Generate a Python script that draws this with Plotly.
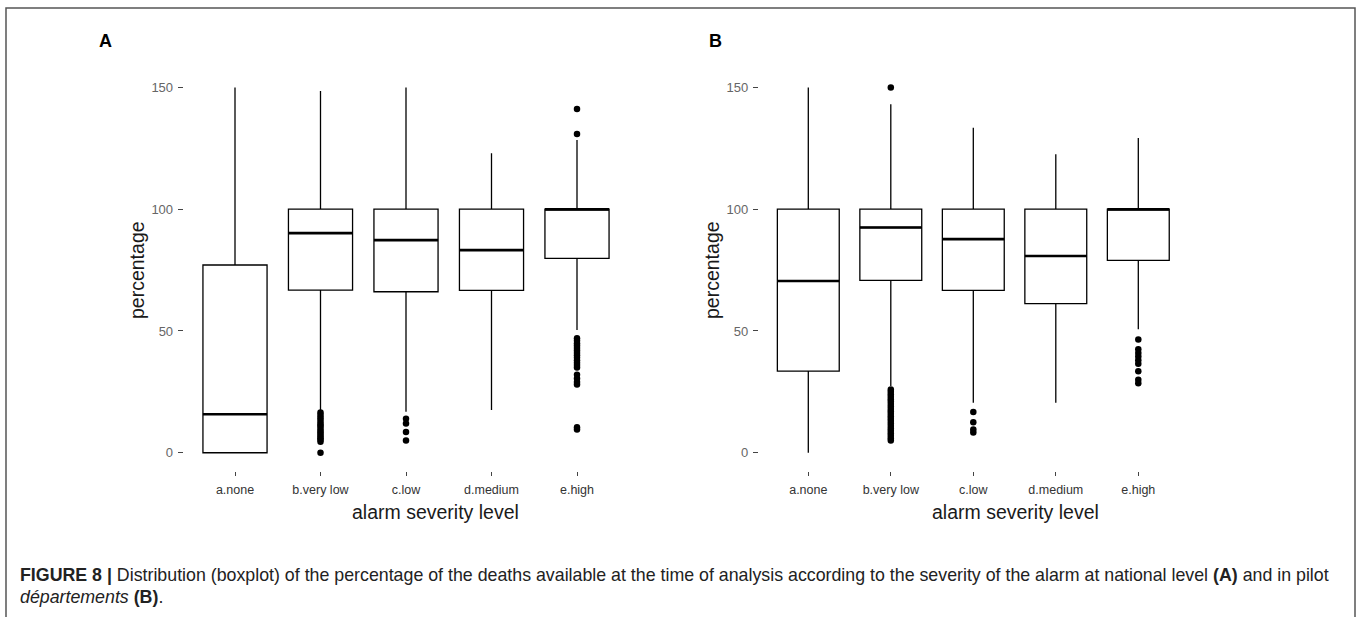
import plotly.graph_objects as go

W, H = 1358, 617

categories = ["a.none", "b.very low", "c.low", "d.medium", "e.high"]

# Panel A: national level
a_q1 = [0, 66.8, 66.1, 66.7, 79.8]
a_median = [15.8, 90.2, 87.3, 83.2, 100]
a_q3 = [77.1, 100, 100, 100, 100]
a_low = [0, 17.5, 16.8, 17.5, 50.4]
a_high = [150, 148.5, 150, 123, 128.4]
a_out = {
    1: [16.5, 15.5, 14.5, 13.5, 12.5, 11.5, 11, 10, 9, 8.3, 7.5, 6.7, 6, 5.3, 4.5, 0],
    2: [14, 12, 8.5, 5],
    4: [141.2, 130.9, 47, 46, 45, 44, 43, 42, 41, 40, 39, 38, 37, 36, 35,
        32, 30.5, 29, 28, 10.5, 9.5],
}

# Panel B: pilot départements
b_q1 = [33.5, 70.8, 66.7, 61.2, 79]
b_median = [70.5, 92.5, 87.7, 80.8, 100]
b_q3 = [100, 100, 100, 100, 100]
b_low = [0, 27.4, 20.5, 20.5, 50.7]
b_high = [150, 143.1, 133.5, 122.6, 129.2]
b_out = {
    1: [150, 26, 25, 24, 23, 22, 21, 20, 19, 18, 17, 16, 15, 14, 13, 12, 11,
        10, 9, 8, 7, 6, 5],
    2: [16.7, 12.5, 9.5, 8.3],
    4: [46.5, 42.5, 41, 39.5, 38, 36.5, 33.5, 30, 28.5],
}

y_ticks = [0, 50, 100, 150]
panel_labels = ["A", "B"]
x_title = "alarm severity level"
y_title = "percentage"

BOXW = 0.75
pos = list(range(len(categories)))

fig = go.Figure()


def add_panel(q1, med, q3, lo, hi, outs, xa, ya):
    fig.add_trace(go.Box(
        x=pos, q1=q1, median=med, q3=q3, lowerfence=lo, upperfence=hi,
        width=BOXW, whiskerwidth=0, fillcolor="white",
        line=dict(color="black", width=1.3), boxpoints=False,
        xaxis=xa, yaxis=ya, showlegend=False, hoverinfo="skip"))
    # thicker median lines (ggplot style)
    mx, my = [], []
    for i, m in zip(pos, med):
        mx += [i - BOXW / 2, i + BOXW / 2, None]
        my += [m, m, None]
    fig.add_trace(go.Scatter(
        x=mx, y=my, mode="lines", line=dict(color="black", width=2.6),
        xaxis=xa, yaxis=ya, showlegend=False, hoverinfo="skip"))
    ox, oy = [], []
    for k, vals in outs.items():
        ox += [k] * len(vals)
        oy += vals
    fig.add_trace(go.Scatter(
        x=ox, y=oy, mode="markers", marker=dict(color="black", size=6.5),
        xaxis=xa, yaxis=ya, showlegend=False, hoverinfo="skip"))


add_panel(a_q1, a_median, a_q3, a_low, a_high, a_out, "x", "y")
add_panel(b_q1, b_median, b_q3, b_low, b_high, b_out, "x2", "y2")

ydom = [1 - 471 / H, 1 - 69.2 / H]
xdomA = [183.7 / W, 628.3 / W]
xdomB = [758.8 / W, 1187.8 / W]

xcommon = dict(range=[-0.6, 4.6], tickvals=pos, ticktext=categories,
               showgrid=False, zeroline=False, showline=False,
               ticks="outside", ticklen=4, tickwidth=1, tickcolor="#444",
               ticklabelstandoff=3,
               tickfont=dict(family="Liberation Sans, Arial", size=12.5, color="#333"))
ycommon = dict(range=[-7.5, 157.5], tickvals=y_ticks,
               showgrid=False, zeroline=False, showline=False,
               ticks="outside", ticklen=5, tickwidth=1.2, tickcolor="#444",
               ticklabelstandoff=2,
               tickfont=dict(family="Liberation Sans, Arial", size=13, color="#666"))

fig.update_layout(
    width=W, height=H,
    margin=dict(l=0, r=0, t=0, b=0),
    paper_bgcolor="white", plot_bgcolor="white",
    xaxis=dict(domain=xdomA, anchor="y", **xcommon),
    yaxis=dict(domain=ydom, anchor="x", **ycommon),
    xaxis2=dict(domain=xdomB, anchor="y2", **xcommon),
    yaxis2=dict(domain=ydom, anchor="x2", **ycommon),
    font=dict(family="Liberation Sans, Arial"),
)

ann = []
title_font = dict(family="Liberation Sans, Arial", size=19.5, color="#1a1a1a")
for lbl, xl, xt, yt in [(panel_labels[0], 105, 435, 137), (panel_labels[1], 715, 1015, 712)]:
    ann.append(dict(text="<b>%s</b>" % lbl, x=xl / W, y=1 - 41.5 / H, xref="paper", yref="paper",
                    showarrow=False, xanchor="center", yanchor="middle",
                    font=dict(family="Liberation Sans, Arial", size=18, color="black")))
    ann.append(dict(text=x_title, x=xt / W, y=1 - 512 / H, xref="paper", yref="paper",
                    showarrow=False, xanchor="center", yanchor="middle", font=title_font))
    ann.append(dict(text=y_title, x=yt / W, y=1 - 270 / H, xref="paper", yref="paper",
                    showarrow=False, xanchor="center", yanchor="middle", textangle=-90,
                    font=title_font))

cap_font = dict(family="Liberation Sans, Arial", size=17.8, color="#222")
ann.append(dict(text="<b>FIGURE 8 |</b> Distribution (boxplot) of the percentage of the deaths available at the time of analysis according to the severity of the alarm at national level <b>(A)</b> and in pilot",
                x=18 / W, y=1 - 575 / H, xref="paper", yref="paper", showarrow=False,
                xanchor="left", yanchor="middle", font=cap_font))
ann.append(dict(text="<i>départements</i> <b>(B)</b>.",
                x=18 / W, y=1 - 597 / H, xref="paper", yref="paper", showarrow=False,
                xanchor="left", yanchor="middle", font=cap_font))
fig.update_layout(annotations=ann)

# outer figure frame
fig.add_shape(type="path", xref="paper", yref="paper",
              path="M %f,0 L %f,%f L %f,%f L %f,0" % (6 / W, 6 / W, 1 - 8 / H, 1355 / W, 1 - 8 / H, 1355 / W),
              line=dict(color="#555", width=1.5))

fig.write_html("out.html", config={"displayModeBar": False},
               post_script="document.body.style.margin='0';document.body.style.overflow='hidden';")
